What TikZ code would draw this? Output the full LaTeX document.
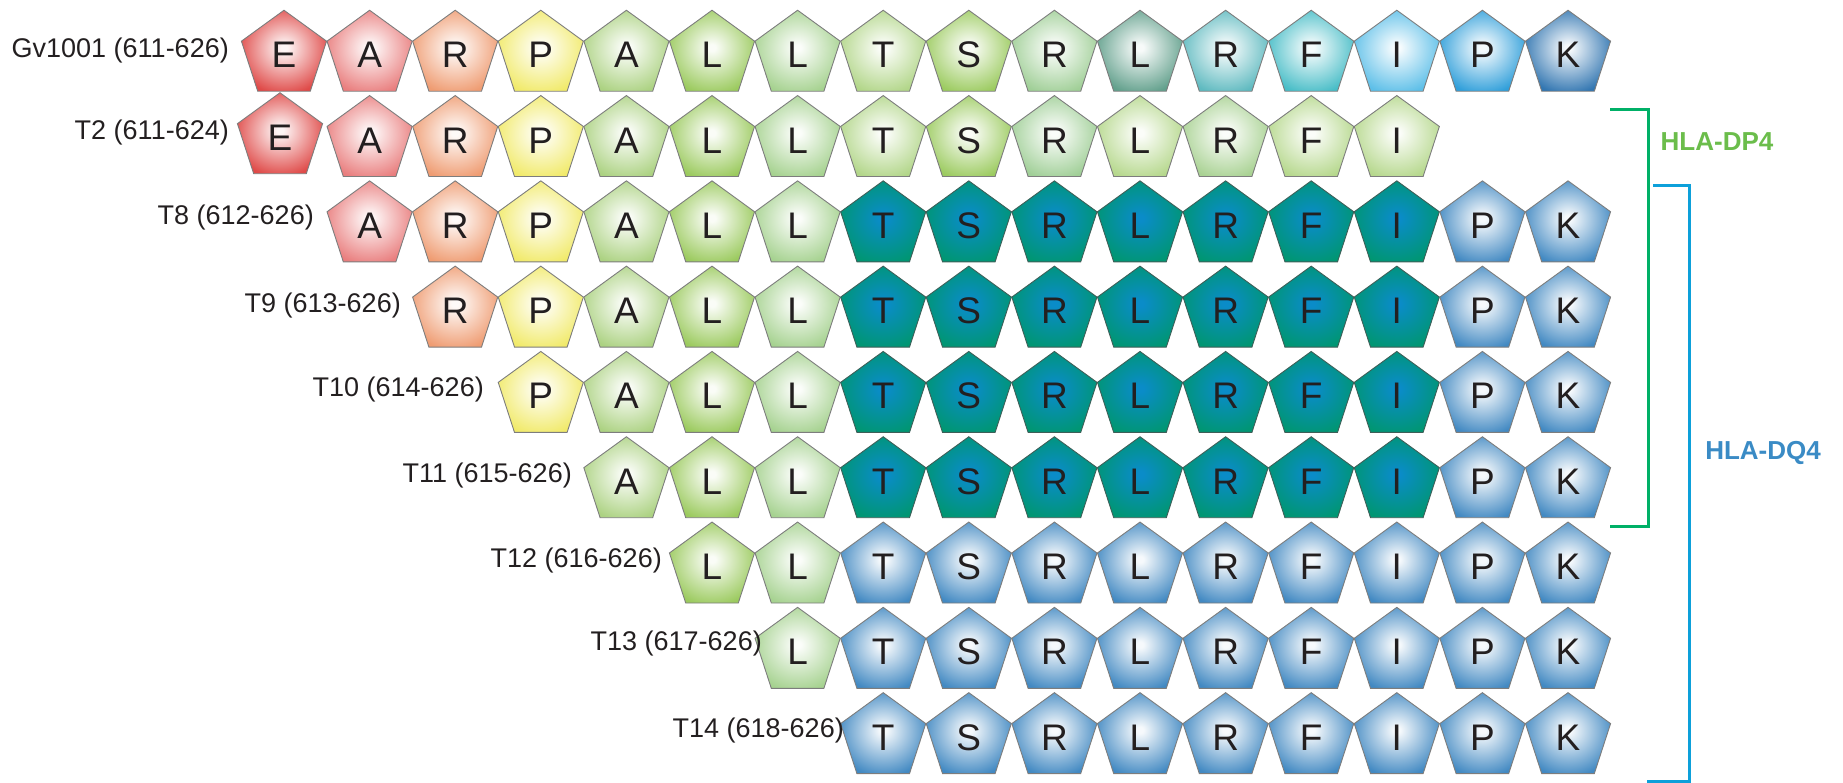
\documentclass[tikz,border=0pt]{standalone}
\usepackage{fontspec}
\setmainfont{Liberation Sans}
\usetikzlibrary{shapes.geometric}
\definecolor{txt}{HTML}{231F20}
\definecolor{pentline}{HTML}{7D7D7D}
\definecolor{tealline}{HTML}{3E5F58}
\definecolor{cE}{HTML}{DF4A48}
\definecolor{cA}{HTML}{E97E7E}
\definecolor{cR}{HTML}{EF9C72}
\definecolor{cP}{HTML}{F1EA6A}
\definecolor{gA}{HTML}{ACD282}
\definecolor{gL}{HTML}{9BCA5E}
\definecolor{gLL}{HTML}{A6D290}
\definecolor{gT}{HTML}{B2D689}
\definecolor{gS}{HTML}{9CCB60}
\definecolor{gR}{HTML}{A0CF97}
\definecolor{gT2}{HTML}{B6D88D}
\definecolor{gR2}{HTML}{A9D293}
\definecolor{tL}{HTML}{62A08C}
\definecolor{tR}{HTML}{5FBAC0}
\definecolor{tF}{HTML}{48BDC7}
\definecolor{bI}{HTML}{5DBFE8}
\definecolor{bP}{HTML}{309FDA}
\definecolor{bK}{HTML}{3276B1}
\definecolor{blu}{HTML}{4289C2}
\definecolor{tealin}{HTML}{0A8CC8}
\definecolor{tealout}{HTML}{009672}
\definecolor{gbrk}{HTML}{00B067}
\definecolor{bbrk}{HTML}{0DA0DA}
\definecolor{dpcol}{HTML}{6BBD4B}
\definecolor{dqcol}{HTML}{3A8BC5}
\colorlet{pentin}{white}
\colorlet{pentout}{gray}
\pgfdeclareradialshading[pentin,pentout]{pent}{\pgfpoint{0bp}{2bp}}{color(0bp)=(pentin); color(2bp)=(pentin); color(28bp)=(pentout); color(50bp)=(pentout)}
\tikzset{
  res/.style={regular polygon, regular polygon sides=5, minimum size=89.5pt,
    inner sep=0pt, draw=pentline, line width=0.9pt,
    font=\fontsize{37}{40}\selectfont, text=txt,
    /utils/exec={\colorlet{pentout}{#1}\colorlet{pentin}{#1!5!white}},
    shading=pent},
  dres/.style={res=tealout, /utils/exec={\colorlet{pentin}{tealin}}, draw=tealline},
  lab/.style={anchor=east, font=\fontsize{27}{30}\selectfont, text=txt, inner sep=0pt},
  brk/.style={line width=3pt},
  hla/.style={font=\bfseries\fontsize{26}{28}\selectfont, inner sep=0pt}
}
\begin{document}
\begin{tikzpicture}[x=1pt,y=-1pt]
\useasboundingbox (0,0) rectangle (1843,783);
% Row 1
\foreach \c/\l/\k in {0/E/cE,1/A/cA,2/R/cR,3/P/cP,4/A/gA,5/L/gL,6/L/gLL,7/T/gT,8/S/gS,9/R/gR,10/L/tL,11/R/tR,12/F/tF,13/I/bI,14/P/bP,15/K/bK}
  \node[res=\k] (p1-\c) at ({284+85.6*\c},55) {\l};
% Row 2
\node[res=cE] (p2-0) at (280,137.5) {E};
\foreach \c/\l/\k in {1/A/cA,2/R/cR,3/P/cP,4/A/gA,5/L/gL,6/L/gLL,7/T/gT,8/S/gS,9/R/gR,10/L/gT2,11/R/gR2,12/F/gT2,13/I/gT2}
  \node[res=\k] (p2-\c) at ({284+85.6*\c},140.3) {\l};
% Rows 3-6
\foreach \r/\s in {3/1,4/2,5/3,6/4}{
  \foreach \c/\l/\k in {1/A/cA,2/R/cR,3/P/cP,4/A/gA,5/L/gL,6/L/gLL}{
    \ifnum\c<\s\relax\else
      \node[res=\k] (p\r-\c) at ({284+85.6*\c},{55+85.3*(\r-1)}) {\l};
    \fi
  }
  \foreach \c/\l in {7/T,8/S,9/R,10/L,11/R,12/F,13/I}
    \node[dres] (p\r-\c) at ({284+85.6*\c},{55+85.3*(\r-1)}) {\l};
  \foreach \c/\l in {14/P,15/K}
    \node[res=blu] (p\r-\c) at ({284+85.6*\c},{55+85.3*(\r-1)}) {\l};
}
% Rows 7-9
\node[res=gL] (p7-5) at ({284+85.6*5},{55+85.3*6}) {L};
\node[res=gLL] (p7-6) at ({284+85.6*6},{55+85.3*6}) {L};
\node[res=gLL] (p8-6) at ({284+85.6*6},{55+85.3*7}) {L};
\foreach \r in {7,8,9}{
  \foreach \c/\l in {7/T,8/S,9/R,10/L,11/R,12/F,13/I,14/P,15/K}
    \node[res=blu] (p\r-\c) at ({284+85.6*\c},{55+85.3*(\r-1)}) {\l};
}
% Labels
\node[lab] (l1) at (229,50.5) {Gv1001 (611-626)};
\node[lab] (l2) at (229,133) {T2 (611-624)};
\node[lab] (l3) at (314,218) {T8 (612-626)};
\node[lab] (l4) at (401,306) {T9 (613-626)};
\node[lab] (l5) at (484,390) {T10 (614-626)};
\node[lab] (l6) at (572,476) {T11 (615-626)};
\node[lab] (l7) at (662,561) {T12 (616-626)};
\node[lab] (l8) at (762,644) {T13 (617-626)};
\node[lab] (l9) at (844,731) {T14 (618-626)};
% Brackets
\coordinate (ga) at (1610,110);
\coordinate (gb) at (1648,110);
\coordinate (gc) at (1648,526);
\coordinate (gd) at (1610,526);
\draw[brk, gbrk] (ga) -- (gb) -- (gc) -- (gd);
\coordinate (ba) at (1653,186);
\coordinate (bb) at (1689,186);
\coordinate (bc) at (1689,781.5);
\coordinate (bd) at (1647,781.5);
\draw[brk, bbrk] (ba) -- (bb) -- (bc) -- (bd);
\node[hla, text=dpcol] (dp) at (1717,142) {HLA-DP4};
\node[hla, text=dqcol] (dq) at (1763,453) {HLA-DQ4};
\end{tikzpicture}
\end{document}
